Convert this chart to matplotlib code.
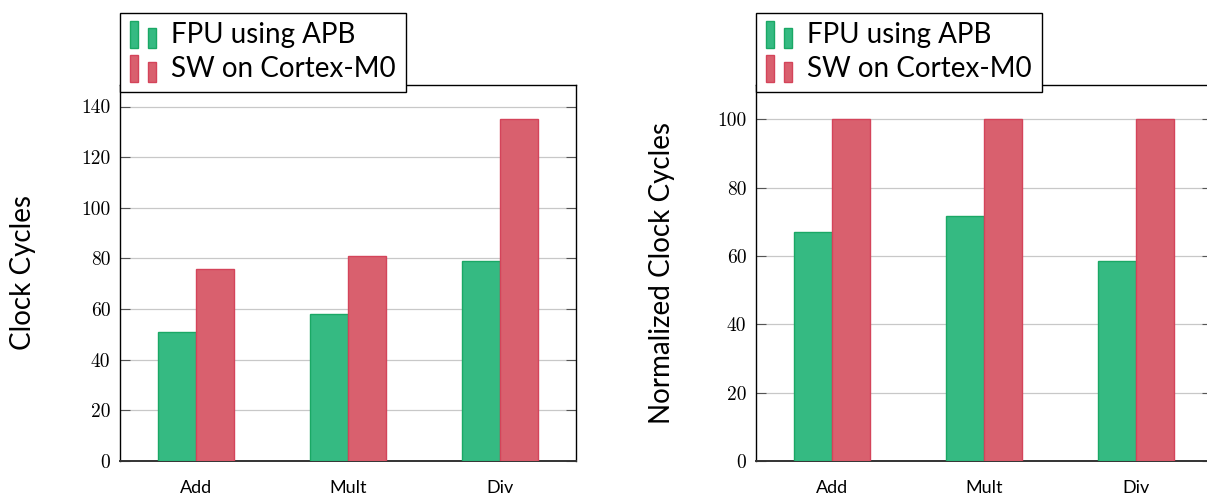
import numpy as np
import matplotlib
matplotlib.use("Agg")
import matplotlib.pyplot as plt
from matplotlib.patches import Rectangle
from matplotlib.legend_handler import HandlerBase
from matplotlib.container import BarContainer

# data
ops = ["Add", "Mult", "Div"]
fpu_cycles = [51, 58, 79]
sw_cycles = [76, 81, 135]
fpu_norm = [67.1, 71.6, 58.5]
sw_norm = [100, 100, 100]
ticks_abs = [0, 20, 40, 60, 80, 100, 120, 140]
ticks_norm = [0, 20, 40, 60, 80, 100]

green = "#35ba82"
green_edge = "#1aa865"
red = "#d9606e"
red_edge = "#d4445a"

label_font = "Lato"
tick_font = "cmr10"


class TwoBarHandler(HandlerBase):
    # pgfplots style ybar legend image: two small bars
    def create_artists(self, legend, orig_handle, xdescent, ydescent,
                       width, height, fontsize, trans):
        p = orig_handle.patches[0]
        fc = p.get_facecolor()
        ec = p.get_edgecolor()
        w = width * 0.32
        r1 = Rectangle((-xdescent, -ydescent - 0.25 * height), w, 1.4 * height,
                       facecolor=fc, edgecolor=ec, lw=1, transform=trans)
        r2 = Rectangle((-xdescent + width - w, -ydescent - 0.25 * height), w, 1.05 * height,
                       facecolor=fc, edgecolor=ec, lw=1, transform=trans)
        return [r1, r2]


def bar_panel(ax, fpu, sw, yticks, ylabel, labelx):
    x = np.arange(len(ops))
    bw = 0.25
    b1 = ax.bar(x - bw / 2, fpu, bw, color=green, edgecolor=green_edge, lw=1, zorder=3,
                label="FPU using APB")
    b2 = ax.bar(x + bw / 2, sw, bw, color=red, edgecolor=red_edge, lw=1, zorder=3,
                label="SW on Cortex-M0")
    ax.set_xlim(-0.5, len(ops) - 0.5)
    ax.set_ylim(0, max(sw) * 1.1)
    ax.set_xticks(x)
    ax.set_xticklabels(ops, fontfamily=label_font, fontsize=13)
    ax.tick_params(axis="x", length=0, pad=14)
    ax.set_yticks(yticks)
    ax.set_yticklabels([str(t) for t in yticks], fontfamily=tick_font, fontsize=14)
    ax.tick_params(axis="y", direction="in", length=7, color="#555555",
                   right=True, pad=7)
    ax.grid(axis="y", color="#c8c8c8", lw=0.9, zorder=0)
    ax.set_axisbelow(True)
    for s in ax.spines.values():
        s.set_linewidth(1.0)
    ax.spines["bottom"].set_linewidth(1.4)
    ax.spines["bottom"].set_color("#333333")
    ax.set_ylabel(ylabel, fontfamily=label_font, fontsize=20)
    ax.yaxis.set_label_coords(labelx, 0.5)
    leg = ax.legend(handles=[b1, b2], loc="lower left",
                    bbox_to_anchor=(0, 1 - 7 / 376), borderaxespad=0,
                    prop={"family": label_font, "size": 20},
                    handler_map={BarContainer: TwoBarHandler()},
                    handlelength=0.95, handletextpad=0.55, labelspacing=0.28,
                    borderpad=0.35, fancybox=False, framealpha=1, edgecolor="black")
    leg.get_frame().set_linewidth(1.0)
    leg.set_zorder(5)


fig = plt.figure(figsize=(12.07, 4.98), dpi=100)
W, H = 1207, 498
ax1 = fig.add_axes([120 / W, 1 - 461 / H, 456 / W, 376 / H])
ax2 = fig.add_axes([756 / W, 1 - 461 / H, 456 / W, 376 / H])

bar_panel(ax1, fpu_cycles, sw_cycles, ticks_abs, "Clock Cycles", -0.184)
bar_panel(ax2, fpu_norm, sw_norm, ticks_norm, "Normalized Clock Cycles", -0.178)

fig.savefig("out.png", dpi=100)
